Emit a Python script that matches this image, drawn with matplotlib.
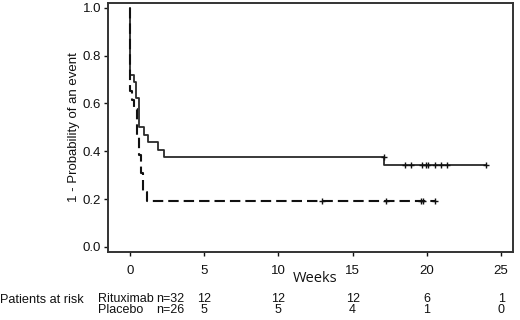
import numpy as np
import matplotlib
matplotlib.use("Agg")
from matplotlib import pyplot as plt
from matplotlib.transforms import blended_transform_factory

plt.rcParams['font.family'] = ['Liberation Sans', 'DejaVu Sans']

# step curves (weeks, 1 - P(event))
ritux_t = [0, 0, 0.3, 0.4, 0.6, 0.92, 1.19, 1.87, 2.29, 17.1, 24.0]
ritux_s = [1.0, 0.719, 0.688, 0.625, 0.5, 0.469, 0.438, 0.406, 0.375, 0.341, 0.341]
ritux_cens = [17.1, 18.53, 18.94, 19.68, 19.95, 20.08, 20.53, 20.96, 21.38, 23.99]
ritux_cens_s = [0.375, 0.341, 0.341, 0.341, 0.341, 0.341, 0.341, 0.341, 0.341, 0.341]

plac_t = [0, 0, 0.15, 0.3, 0.45, 0.63, 0.76, 0.9, 1.17, 20.53]
plac_s = [1.0, 0.654, 0.615, 0.577, 0.462, 0.385, 0.308, 0.231, 0.192, 0.192]
plac_cens = [12.96, 17.25, 19.59, 19.72, 20.53]
plac_cens_s = [0.192, 0.192, 0.192, 0.192, 0.192]

risk_weeks = [5, 10, 15, 20, 25]
ritux_risk = [12, 12, 12, 6, 1]
plac_risk = [5, 5, 4, 1, 0]

fig = plt.figure(figsize=(5.2, 3.2), dpi=100)
ax = fig.add_axes([0.2077, 0.2125, 0.7788, 0.778])

col = '#111111'
ax.step(ritux_t, ritux_s, where='post', color='#2a2a2a', lw=1.3)
ax.plot(ritux_cens, ritux_cens_s, '+', color=col, ms=4, mew=1.0)
ax.step(plac_t, plac_s, where='post', color=col, lw=1.5, dashes=(5, 2.4))
ax.plot(plac_cens, plac_cens_s, '+', color=col, ms=4, mew=1.0)

ax.set_xlim(-1.48, 25.8)
ax.set_ylim(-0.021, 1.02)
ax.set_xticks([0, 5, 10, 15, 20, 25])
ax.set_yticks([0.0, 0.2, 0.4, 0.6, 0.8, 1.0])
ax.set_yticklabels(['0.0', '0.2', '0.4', '0.6', '0.8', '1.0'])
ax.tick_params(labelsize=9.5, length=3, width=1, colors=col, pad=2)
ax.tick_params(axis='x', pad=6)
for s in ax.spines.values():
    s.set_linewidth(1.4)
    s.set_color('#333333')

ax.set_ylabel('1 - Probability of an event', fontsize=9.5, color=col, labelpad=2)
fig.text(0.606, 0.131, 'Weeks', fontsize=10.5, family='Open Sans', color=col,
         ha='center', va='center')

# at-risk table below the axes
fs = 9
y1, y2 = 0.067, 0.031
tr = blended_transform_factory(ax.transData, fig.transFigure)
fig.text(0.0, 0.0625, 'Patients at risk', fontsize=9.2, color=col, va='center')
fig.text(0.188, y1, 'Rituximab', fontsize=fs, color=col, va='center')
fig.text(0.354, y1, 'n=32', fontsize=fs, color=col, va='center', ha='right')
fig.text(0.188, y2, 'Placebo', fontsize=fs, color=col, va='center')
fig.text(0.354, y2, 'n=26', fontsize=fs, color=col, va='center', ha='right')
for w, a, b in zip(risk_weeks, ritux_risk, plac_risk):
    ax.text(w, y1, str(a), transform=tr, fontsize=fs, color=col,
            ha='center', va='center', clip_on=False)
    ax.text(w, y2, str(b), transform=tr, fontsize=fs, color=col,
            ha='center', va='center', clip_on=False)

fig.savefig('out.png', dpi=100)
